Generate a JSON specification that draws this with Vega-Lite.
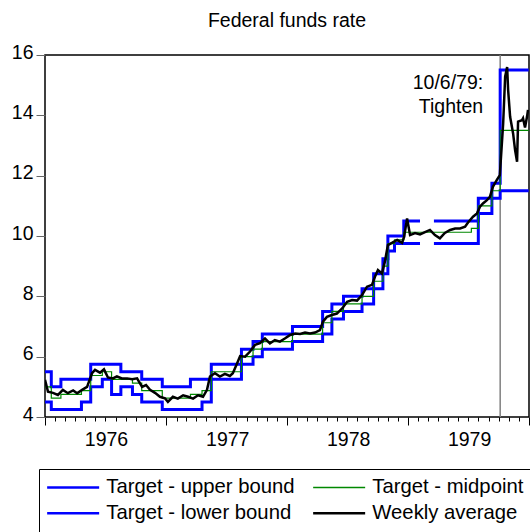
{
  "$schema": "https://vega.github.io/schema/vega-lite/v6.json",
  "width": 484,
  "height": 362,
  "autosize": {"type": "none"},
  "padding": {"left": 45, "top": 55, "right": 1, "bottom": 115},
  "background": "white",
  "config": {
    "font": "Liberation Sans",
    "view": {"stroke": "#000", "strokeWidth": 1.5}
  },
  "title": {
    "text": "Federal funds rate",
    "fontSize": 19.5,
    "fontWeight": "normal",
    "color": "#000",
    "offset": 11,
    "anchor": "middle"
  },
  "datasets": {
    "bounds": [
      {"date": "1976-01-01", "series": "Target - upper bound", "seg": 1, "rate": 5.5},
      {"date": "1976-01-20", "series": "Target - upper bound", "seg": 1, "rate": 5.0},
      {"date": "1976-02-18", "series": "Target - upper bound", "seg": 1, "rate": 5.25},
      {"date": "1976-05-18", "series": "Target - upper bound", "seg": 1, "rate": 5.75},
      {"date": "1976-08-17", "series": "Target - upper bound", "seg": 1, "rate": 5.5},
      {"date": "1976-10-19", "series": "Target - upper bound", "seg": 1, "rate": 5.25},
      {"date": "1976-12-20", "series": "Target - upper bound", "seg": 1, "rate": 5.0},
      {"date": "1977-03-15", "series": "Target - upper bound", "seg": 1, "rate": 5.25},
      {"date": "1977-05-17", "series": "Target - upper bound", "seg": 1, "rate": 5.75},
      {"date": "1977-08-16", "series": "Target - upper bound", "seg": 1, "rate": 6.25},
      {"date": "1977-09-20", "series": "Target - upper bound", "seg": 1, "rate": 6.5},
      {"date": "1977-10-18", "series": "Target - upper bound", "seg": 1, "rate": 6.75},
      {"date": "1978-01-17", "series": "Target - upper bound", "seg": 1, "rate": 7.0},
      {"date": "1978-04-18", "series": "Target - upper bound", "seg": 1, "rate": 7.5},
      {"date": "1978-05-16", "series": "Target - upper bound", "seg": 1, "rate": 7.75},
      {"date": "1978-06-20", "series": "Target - upper bound", "seg": 1, "rate": 8.0},
      {"date": "1978-08-15", "series": "Target - upper bound", "seg": 1, "rate": 8.25},
      {"date": "1978-09-19", "series": "Target - upper bound", "seg": 1, "rate": 8.75},
      {"date": "1978-10-17", "series": "Target - upper bound", "seg": 1, "rate": 9.25},
      {"date": "1978-11-01", "series": "Target - upper bound", "seg": 1, "rate": 10.0},
      {"date": "1978-12-19", "series": "Target - upper bound", "seg": 1, "rate": 10.5},
      {"date": "1979-02-06", "series": "Target - upper bound", "seg": 1, "rate": 10.5},
      {"date": "1979-03-20", "series": "Target - upper bound", "seg": 2, "rate": 10.5},
      {"date": "1979-08-01", "series": "Target - upper bound", "seg": 2, "rate": 11.25},
      {"date": "1979-09-11", "series": "Target - upper bound", "seg": 2, "rate": 11.75},
      {"date": "1979-10-06", "series": "Target - upper bound", "seg": 2, "rate": 15.5},
      {"date": "1979-12-31", "series": "Target - upper bound", "seg": 2, "rate": 15.5},
      {"date": "1976-01-01", "series": "Target - lower bound", "seg": 1, "rate": 4.5},
      {"date": "1976-01-20", "series": "Target - lower bound", "seg": 1, "rate": 4.25},
      {"date": "1976-04-20", "series": "Target - lower bound", "seg": 1, "rate": 4.5},
      {"date": "1976-05-18", "series": "Target - lower bound", "seg": 1, "rate": 5.0},
      {"date": "1976-06-22", "series": "Target - lower bound", "seg": 1, "rate": 5.25},
      {"date": "1976-07-20", "series": "Target - lower bound", "seg": 1, "rate": 4.75},
      {"date": "1976-08-17", "series": "Target - lower bound", "seg": 1, "rate": 5.0},
      {"date": "1976-09-21", "series": "Target - lower bound", "seg": 1, "rate": 4.75},
      {"date": "1976-10-19", "series": "Target - lower bound", "seg": 1, "rate": 4.5},
      {"date": "1976-12-20", "series": "Target - lower bound", "seg": 1, "rate": 4.25},
      {"date": "1977-04-19", "series": "Target - lower bound", "seg": 1, "rate": 4.5},
      {"date": "1977-05-17", "series": "Target - lower bound", "seg": 1, "rate": 5.25},
      {"date": "1977-08-16", "series": "Target - lower bound", "seg": 1, "rate": 5.75},
      {"date": "1977-09-20", "series": "Target - lower bound", "seg": 1, "rate": 6.0},
      {"date": "1977-10-18", "series": "Target - lower bound", "seg": 1, "rate": 6.25},
      {"date": "1978-01-17", "series": "Target - lower bound", "seg": 1, "rate": 6.5},
      {"date": "1978-04-18", "series": "Target - lower bound", "seg": 1, "rate": 6.75},
      {"date": "1978-05-16", "series": "Target - lower bound", "seg": 1, "rate": 7.25},
      {"date": "1978-06-20", "series": "Target - lower bound", "seg": 1, "rate": 7.5},
      {"date": "1978-08-15", "series": "Target - lower bound", "seg": 1, "rate": 7.75},
      {"date": "1978-09-19", "series": "Target - lower bound", "seg": 1, "rate": 8.25},
      {"date": "1978-10-17", "series": "Target - lower bound", "seg": 1, "rate": 8.75},
      {"date": "1978-11-01", "series": "Target - lower bound", "seg": 1, "rate": 9.5},
      {"date": "1978-11-21", "series": "Target - lower bound", "seg": 1, "rate": 9.75},
      {"date": "1979-02-06", "series": "Target - lower bound", "seg": 1, "rate": 9.75},
      {"date": "1979-03-20", "series": "Target - lower bound", "seg": 2, "rate": 9.75},
      {"date": "1979-08-01", "series": "Target - lower bound", "seg": 2, "rate": 10.75},
      {"date": "1979-09-11", "series": "Target - lower bound", "seg": 2, "rate": 11.25},
      {"date": "1979-10-06", "series": "Target - lower bound", "seg": 2, "rate": 11.5},
      {"date": "1979-12-31", "series": "Target - lower bound", "seg": 2, "rate": 11.5}
    ],
    "mid": [
      {"date": "1976-01-01", "series": "Target - midpoint", "rate": 5.0},
      {"date": "1976-01-20", "series": "Target - midpoint", "rate": 4.625},
      {"date": "1976-02-18", "series": "Target - midpoint", "rate": 4.75},
      {"date": "1976-04-20", "series": "Target - midpoint", "rate": 4.875},
      {"date": "1976-05-18", "series": "Target - midpoint", "rate": 5.375},
      {"date": "1976-06-22", "series": "Target - midpoint", "rate": 5.5},
      {"date": "1976-07-20", "series": "Target - midpoint", "rate": 5.25},
      {"date": "1976-08-17", "series": "Target - midpoint", "rate": 5.25},
      {"date": "1976-09-21", "series": "Target - midpoint", "rate": 5.125},
      {"date": "1976-10-19", "series": "Target - midpoint", "rate": 4.875},
      {"date": "1976-12-20", "series": "Target - midpoint", "rate": 4.625},
      {"date": "1977-03-15", "series": "Target - midpoint", "rate": 4.75},
      {"date": "1977-04-19", "series": "Target - midpoint", "rate": 4.875},
      {"date": "1977-05-17", "series": "Target - midpoint", "rate": 5.5},
      {"date": "1977-08-16", "series": "Target - midpoint", "rate": 6.0},
      {"date": "1977-09-20", "series": "Target - midpoint", "rate": 6.25},
      {"date": "1977-10-18", "series": "Target - midpoint", "rate": 6.5},
      {"date": "1978-01-17", "series": "Target - midpoint", "rate": 6.75},
      {"date": "1978-04-18", "series": "Target - midpoint", "rate": 7.125},
      {"date": "1978-05-16", "series": "Target - midpoint", "rate": 7.5},
      {"date": "1978-06-20", "series": "Target - midpoint", "rate": 7.75},
      {"date": "1978-08-15", "series": "Target - midpoint", "rate": 8.0},
      {"date": "1978-09-19", "series": "Target - midpoint", "rate": 8.5},
      {"date": "1978-10-17", "series": "Target - midpoint", "rate": 9.0},
      {"date": "1978-11-01", "series": "Target - midpoint", "rate": 9.75},
      {"date": "1978-11-21", "series": "Target - midpoint", "rate": 9.875},
      {"date": "1978-12-19", "series": "Target - midpoint", "rate": 10.125},
      {"date": "1979-07-11", "series": "Target - midpoint", "rate": 10.25},
      {"date": "1979-08-01", "series": "Target - midpoint", "rate": 11.0},
      {"date": "1979-09-11", "series": "Target - midpoint", "rate": 11.5},
      {"date": "1979-10-06", "series": "Target - midpoint", "rate": 13.5},
      {"date": "1979-12-31", "series": "Target - midpoint", "rate": 13.5}
    ],
    "weekly": [
      {"date": "1976-01-01", "series": "Weekly average", "rate": 5.23},
      {"date": "1976-01-10", "series": "Weekly average", "rate": 4.84},
      {"date": "1976-01-25", "series": "Weekly average", "rate": 4.80},
      {"date": "1976-02-09", "series": "Weekly average", "rate": 4.73},
      {"date": "1976-02-24", "series": "Weekly average", "rate": 4.90},
      {"date": "1976-03-10", "series": "Weekly average", "rate": 4.79},
      {"date": "1976-03-26", "series": "Weekly average", "rate": 4.88},
      {"date": "1976-04-07", "series": "Weekly average", "rate": 4.79},
      {"date": "1976-04-22", "series": "Weekly average", "rate": 4.90},
      {"date": "1976-05-07", "series": "Weekly average", "rate": 5.00},
      {"date": "1976-05-22", "series": "Weekly average", "rate": 5.45},
      {"date": "1976-05-31", "series": "Weekly average", "rate": 5.56},
      {"date": "1976-06-15", "series": "Weekly average", "rate": 5.47},
      {"date": "1976-06-27", "series": "Weekly average", "rate": 5.58},
      {"date": "1976-07-09", "series": "Weekly average", "rate": 5.31},
      {"date": "1976-07-24", "series": "Weekly average", "rate": 5.28},
      {"date": "1976-08-05", "series": "Weekly average", "rate": 5.35},
      {"date": "1976-08-20", "series": "Weekly average", "rate": 5.28},
      {"date": "1976-09-05", "series": "Weekly average", "rate": 5.28},
      {"date": "1976-09-20", "series": "Weekly average", "rate": 5.25},
      {"date": "1976-10-05", "series": "Weekly average", "rate": 5.28},
      {"date": "1976-10-20", "series": "Weekly average", "rate": 5.00},
      {"date": "1976-11-01", "series": "Weekly average", "rate": 5.06},
      {"date": "1976-11-13", "series": "Weekly average", "rate": 4.90},
      {"date": "1976-11-28", "series": "Weekly average", "rate": 4.80},
      {"date": "1976-12-13", "series": "Weekly average", "rate": 4.67},
      {"date": "1976-12-28", "series": "Weekly average", "rate": 4.62},
      {"date": "1977-01-06", "series": "Weekly average", "rate": 4.50},
      {"date": "1977-01-21", "series": "Weekly average", "rate": 4.67},
      {"date": "1977-02-05", "series": "Weekly average", "rate": 4.61},
      {"date": "1977-02-21", "series": "Weekly average", "rate": 4.72},
      {"date": "1977-03-08", "series": "Weekly average", "rate": 4.67},
      {"date": "1977-03-23", "series": "Weekly average", "rate": 4.61},
      {"date": "1977-04-07", "series": "Weekly average", "rate": 4.72},
      {"date": "1977-04-22", "series": "Weekly average", "rate": 4.67},
      {"date": "1977-05-04", "series": "Weekly average", "rate": 4.90},
      {"date": "1977-05-13", "series": "Weekly average", "rate": 5.34},
      {"date": "1977-05-28", "series": "Weekly average", "rate": 5.45},
      {"date": "1977-06-12", "series": "Weekly average", "rate": 5.34},
      {"date": "1977-06-27", "series": "Weekly average", "rate": 5.43},
      {"date": "1977-07-12", "series": "Weekly average", "rate": 5.36},
      {"date": "1977-07-21", "series": "Weekly average", "rate": 5.45},
      {"date": "1977-08-03", "series": "Weekly average", "rate": 5.78},
      {"date": "1977-08-12", "series": "Weekly average", "rate": 6.02},
      {"date": "1977-08-27", "series": "Weekly average", "rate": 6.00},
      {"date": "1977-09-11", "series": "Weekly average", "rate": 6.17},
      {"date": "1977-09-26", "series": "Weekly average", "rate": 6.39},
      {"date": "1977-10-11", "series": "Weekly average", "rate": 6.45},
      {"date": "1977-10-26", "series": "Weekly average", "rate": 6.60},
      {"date": "1977-11-10", "series": "Weekly average", "rate": 6.44},
      {"date": "1977-11-25", "series": "Weekly average", "rate": 6.55},
      {"date": "1977-12-10", "series": "Weekly average", "rate": 6.50},
      {"date": "1977-12-25", "series": "Weekly average", "rate": 6.60},
      {"date": "1978-01-10", "series": "Weekly average", "rate": 6.72},
      {"date": "1978-01-25", "series": "Weekly average", "rate": 6.77},
      {"date": "1978-02-09", "series": "Weekly average", "rate": 6.75},
      {"date": "1978-02-24", "series": "Weekly average", "rate": 6.80},
      {"date": "1978-03-11", "series": "Weekly average", "rate": 6.77},
      {"date": "1978-03-26", "series": "Weekly average", "rate": 6.80},
      {"date": "1978-04-10", "series": "Weekly average", "rate": 6.88},
      {"date": "1978-04-19", "series": "Weekly average", "rate": 7.16},
      {"date": "1978-05-01", "series": "Weekly average", "rate": 7.32},
      {"date": "1978-05-16", "series": "Weekly average", "rate": 7.38},
      {"date": "1978-05-31", "series": "Weekly average", "rate": 7.43},
      {"date": "1978-06-16", "series": "Weekly average", "rate": 7.60},
      {"date": "1978-07-01", "series": "Weekly average", "rate": 7.82},
      {"date": "1978-07-16", "series": "Weekly average", "rate": 7.88},
      {"date": "1978-07-31", "series": "Weekly average", "rate": 7.86},
      {"date": "1978-08-15", "series": "Weekly average", "rate": 8.04},
      {"date": "1978-08-30", "series": "Weekly average", "rate": 8.32},
      {"date": "1978-09-14", "series": "Weekly average", "rate": 8.38},
      {"date": "1978-09-23", "series": "Weekly average", "rate": 8.65},
      {"date": "1978-10-02", "series": "Weekly average", "rate": 8.87},
      {"date": "1978-10-14", "series": "Weekly average", "rate": 8.76},
      {"date": "1978-10-23", "series": "Weekly average", "rate": 9.15},
      {"date": "1978-11-01", "series": "Weekly average", "rate": 9.70},
      {"date": "1978-11-13", "series": "Weekly average", "rate": 9.77},
      {"date": "1978-11-29", "series": "Weekly average", "rate": 9.87},
      {"date": "1978-12-14", "series": "Weekly average", "rate": 9.77},
      {"date": "1978-12-20", "series": "Weekly average", "rate": 9.98},
      {"date": "1978-12-29", "series": "Weekly average", "rate": 10.58},
      {"date": "1979-01-07", "series": "Weekly average", "rate": 10.03},
      {"date": "1979-01-22", "series": "Weekly average", "rate": 10.10},
      {"date": "1979-02-06", "series": "Weekly average", "rate": 10.05},
      {"date": "1979-02-21", "series": "Weekly average", "rate": 10.13},
      {"date": "1979-03-08", "series": "Weekly average", "rate": 10.20},
      {"date": "1979-03-23", "series": "Weekly average", "rate": 10.03},
      {"date": "1979-04-07", "series": "Weekly average", "rate": 9.92},
      {"date": "1979-04-22", "series": "Weekly average", "rate": 10.10},
      {"date": "1979-05-08", "series": "Weekly average", "rate": 10.20},
      {"date": "1979-05-23", "series": "Weekly average", "rate": 10.25},
      {"date": "1979-06-07", "series": "Weekly average", "rate": 10.25},
      {"date": "1979-06-22", "series": "Weekly average", "rate": 10.31},
      {"date": "1979-07-01", "series": "Weekly average", "rate": 10.45},
      {"date": "1979-07-16", "series": "Weekly average", "rate": 10.64},
      {"date": "1979-07-28", "series": "Weekly average", "rate": 10.75},
      {"date": "1979-08-06", "series": "Weekly average", "rate": 10.97},
      {"date": "1979-08-15", "series": "Weekly average", "rate": 11.08},
      {"date": "1979-08-27", "series": "Weekly average", "rate": 11.19},
      {"date": "1979-09-05", "series": "Weekly average", "rate": 11.30},
      {"date": "1979-09-14", "series": "Weekly average", "rate": 11.63},
      {"date": "1979-09-26", "series": "Weekly average", "rate": 11.86},
      {"date": "1979-10-05", "series": "Weekly average", "rate": 12.02},
      {"date": "1979-10-15", "series": "Weekly average", "rate": 13.73},
      {"date": "1979-10-21", "series": "Weekly average", "rate": 15.28},
      {"date": "1979-10-27", "series": "Weekly average", "rate": 15.60},
      {"date": "1979-10-30", "series": "Weekly average", "rate": 14.84},
      {"date": "1979-11-05", "series": "Weekly average", "rate": 13.95},
      {"date": "1979-11-14", "series": "Weekly average", "rate": 13.40},
      {"date": "1979-11-20", "series": "Weekly average", "rate": 12.85},
      {"date": "1979-11-26", "series": "Weekly average", "rate": 12.46},
      {"date": "1979-11-29", "series": "Weekly average", "rate": 13.79},
      {"date": "1979-12-11", "series": "Weekly average", "rate": 13.84},
      {"date": "1979-12-14", "series": "Weekly average", "rate": 13.90},
      {"date": "1979-12-20", "series": "Weekly average", "rate": 13.60},
      {"date": "1979-12-26", "series": "Weekly average", "rate": 13.95},
      {"date": "1979-12-29", "series": "Weekly average", "rate": 14.18}
    ]
  },
  "layer": [
    {
      "data": {"values": [{"event": "10/6/79", "date": "1979-10-06"}], "format": {"parse": {"date": "utc:'%Y-%m-%d'"}}},
      "mark": {"type": "rule", "color": "#808080", "strokeWidth": 1.5},
      "encoding": {
        "x": {"field": "date", "type": "temporal", "scale": {"type": "utc", "domain": [{"year": 1976, "month": 1, "date": 1, "utc": true}, {"year": 1980, "month": 1, "date": 1, "utc": true}]}}
      }
    },
    {
      "data": {"name": "bounds", "format": {"parse": {"date": "utc:'%Y-%m-%d'"}}},
      "mark": {"type": "line", "interpolate": "step-after", "strokeWidth": 3, "clip": true},
      "encoding": {
        "x": {
          "field": "date", "type": "temporal",
          "scale": {"type": "utc", "domain": [{"year": 1976, "month": 1, "date": 1, "utc": true}, {"year": 1980, "month": 1, "date": 1, "utc": true}]},
          "axis": {
            "title": null,
            "domain": false,
            "grid": false,
            "tickCount": {"interval": "month", "step": 1},
            "tickSize": {"condition": {"test": "utcmonth(datum.value) == 0", "value": 8}, "value": 4},
            "tickColor": "#000",
            "tickWidth": 1,
            "labelExpr": "utcmonth(datum.value) == 0 && utcyear(datum.value) < 1980 ? utcFormat(datum.value, '%Y') : ''",
            "labelOffset": 61,
            "labelFontSize": 19.5,
            "labelColor": "#000",
            "labelPadding": 5,
            "labelOverlap": false,
            "labelFlush": false,
            "labelBound": false
          }
        },
        "y": {
          "field": "rate", "type": "quantitative",
          "scale": {"domain": [4, 16], "nice": false, "zero": false},
          "axis": {
            "title": null,
            "domain": false,
            "grid": false,
            "values": [4, 6, 8, 10, 12, 14, 16],
            "tickSize": 9,
            "tickColor": "#666",
            "labelFontSize": 19.5,
            "labelColor": "#000",
            "labelPadding": 3,
            "labelOffset": -3
          }
        },
        "color": {
          "field": "series", "type": "nominal",
          "scale": {
            "domain": ["Target - upper bound", "Target - lower bound", "Target - midpoint", "Weekly average"],
            "range": ["#0000ff", "#0000ff", "#008800", "#000000"]
          },
          "legend": {
            "orient": "none",
            "legendX": -6,
            "legendY": 414,
            "columns": 2,
            "title": null,
            "strokeColor": "#000",
            "padding": 8,
            "symbolType": "stroke",
            "symbolSize": 2704,
            "symbolStrokeWidth": 2.5,
            "symbolOffset": 16,
            "labelFontSize": 20.3,
            "labelColor": "#000",
            "labelOffset": 23,
            "labelLimit": 400,
            "columnPadding": 13,
            "rowPadding": 5,
            "encode": {"symbols": {"update": {"strokeWidth": {"signal": "datum.value === 'Target - midpoint' ? 1.5 : 2.5"}}}}
          }
        },
        "detail": {"field": "seg", "type": "nominal"}
      }
    },
    {
      "data": {"name": "mid", "format": {"parse": {"date": "utc:'%Y-%m-%d'"}}},
      "mark": {"type": "line", "interpolate": "step-after", "strokeWidth": 1.2, "clip": true},
      "encoding": {
        "x": {"field": "date", "type": "temporal"},
        "y": {"field": "rate", "type": "quantitative"},
        "color": {"field": "series", "type": "nominal"}
      }
    },
    {
      "data": {"name": "weekly", "format": {"parse": {"date": "utc:'%Y-%m-%d'"}}},
      "mark": {"type": "line", "strokeWidth": 2.5, "clip": true},
      "encoding": {
        "x": {"field": "date", "type": "temporal"},
        "y": {"field": "rate", "type": "quantitative"},
        "color": {"field": "series", "type": "nominal"}
      }
    },
    {
      "data": {"values": [{"date": "1979-10-06", "note": ["10/6/79:", "Tighten"]}], "format": {"parse": {"date": "utc:'%Y-%m-%d'"}}},
      "mark": {"type": "text", "align": "right", "baseline": "alphabetic", "dx": -17, "fontSize": 19.5, "lineHeight": 24, "color": "#000"},
      "encoding": {
        "x": {"field": "date", "type": "temporal"},
        "y": {"datum": 14.87, "type": "quantitative"},
        "text": {"field": "note"}
      }
    }
  ]
}
